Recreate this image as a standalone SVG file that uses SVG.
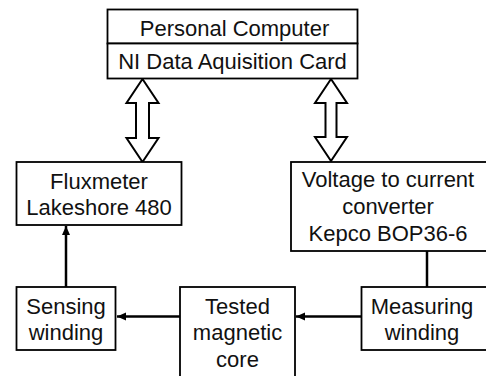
<svg xmlns="http://www.w3.org/2000/svg" width="486" height="376" viewBox="0 0 486 376">
<style>
.box{fill:#fff;stroke:#000;stroke-width:1.8}
.t{font-family:"Liberation Sans",Arial,sans-serif;font-size:22px;fill:#111;text-anchor:middle}
.ln{stroke:#000;stroke-width:2.5;fill:none}
.dbl{fill:#fff;stroke:#000;stroke-width:2;stroke-linejoin:miter}
</style>
<defs>
<marker id="ah" markerWidth="10" markerHeight="10" refX="9" refY="5" orient="auto" markerUnits="userSpaceOnUse">
<path d="M0,1 L9,5 L0,9 Z" fill="#000"/>
</marker>
</defs>
<rect width="486" height="376" fill="#fff"/>
<g id="connectors">
<polygon class="dbl" points="142.5,79 158.5,103 149,103 149,138 158.5,138 142.5,162 126.5,138 136,138 136,103 126.5,103"/>
<polygon class="dbl" points="331,79 347,103 336.5,103 336.5,137 347,137 331,161 315,137 325.5,137 325.5,103 315,103"/>
<line class="ln" x1="66" y1="287" x2="66" y2="226" marker-end="url(#ah)"/>
<line class="ln" x1="427" y1="251" x2="427" y2="287"/>
<line class="ln" x1="180" y1="316.5" x2="117" y2="316.5" marker-end="url(#ah)"/>
<line class="ln" x1="362" y1="316.5" x2="296" y2="316.5" marker-end="url(#ah)"/>
</g>
<g id="pc">
<rect class="box" x="107.5" y="9.5" width="250" height="34"/>
<text class="t" x="234.5" y="36">Personal Computer</text>
</g>
<g id="daq">
<rect class="box" x="107.5" y="43.5" width="250" height="35"/>
<text class="t" x="232.5" y="68.5">NI Data Aquisition Card</text>
</g>
<g id="fluxmeter">
<rect class="box" x="16.5" y="162" width="165" height="63"/>
<text class="t" x="99" y="188.5">Fluxmeter</text>
<text class="t" x="99" y="215">Lakeshore 480</text>
</g>
<g id="converter">
<rect class="box" x="291" y="162" width="200" height="89"/>
<text class="t" x="388" y="187">Voltage to current</text>
<text class="t" x="388" y="214">converter</text>
<text class="t" x="388" y="241">Kepco BOP36-6</text>
</g>
<g id="sensing">
<rect class="box" x="16.5" y="287" width="99" height="63"/>
<text class="t" x="66" y="314">Sensing</text>
<text class="t" x="66" y="339.5">winding</text>
</g>
<g id="core">
<rect class="box" x="180" y="287" width="115" height="92"/>
<text class="t" x="237.5" y="314">Tested</text>
<text class="t" x="237.5" y="340">magnetic</text>
<text class="t" x="237.5" y="366.5">core</text>
</g>
<g id="measuring">
<rect class="box" x="361.5" y="287" width="130" height="63"/>
<text class="t" x="422" y="314">Measuring</text>
<text class="t" x="422" y="339.5">winding</text>
</g>
</svg>
